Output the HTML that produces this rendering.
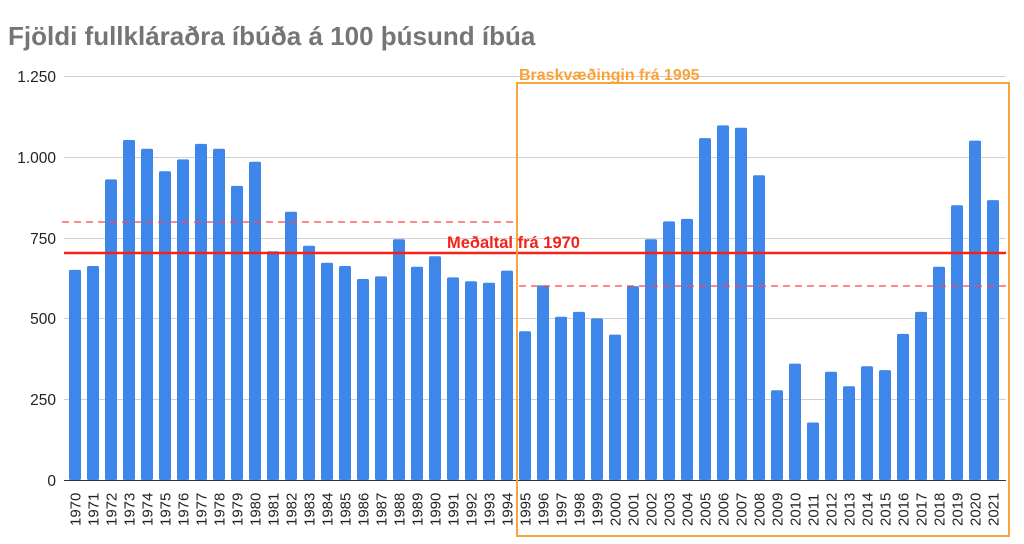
<!DOCTYPE html>
<html><head><meta charset="utf-8"><style>body{margin:0;background:#fff}svg{display:block}</style></head><body>
<svg width="1024" height="544" xmlns="http://www.w3.org/2000/svg" font-family="Liberation Sans, Arial, sans-serif">
<text x="8" y="45" font-size="26" font-weight="bold" fill="#757575">Fjöldi fullkláraðra íbúða á 100 þúsund íbúa</text>
<g stroke="#d0d0d0" stroke-width="1">
<line x1="64" x2="1006" y1="76.5" y2="76.5"/><line x1="64" x2="1006" y1="157.5" y2="157.5"/><line x1="64" x2="1006" y1="238.5" y2="238.5"/><line x1="64" x2="1006" y1="318.5" y2="318.5"/><line x1="64" x2="1006" y1="399.5" y2="399.5"/>
</g>
<g font-size="15.5" fill="#222" text-anchor="end">
<text x="56" y="82">1.250</text><text x="56" y="163">1.000</text><text x="56" y="244">750</text><text x="56" y="324">500</text><text x="56" y="405">250</text><text x="56" y="486">0</text>
</g>
<g fill="#3f86ea">
<rect x="69" y="269.9" width="12" height="210.1" rx="1.5"/>
<rect x="87" y="266.0" width="12" height="214.0" rx="1.5"/>
<rect x="105" y="179.4" width="12" height="300.6" rx="1.5"/>
<rect x="123" y="140.0" width="12" height="340.0" rx="1.5"/>
<rect x="141" y="148.7" width="12" height="331.3" rx="1.5"/>
<rect x="159" y="171.3" width="12" height="308.7" rx="1.5"/>
<rect x="177" y="159.4" width="12" height="320.6" rx="1.5"/>
<rect x="195" y="143.9" width="12" height="336.1" rx="1.5"/>
<rect x="213" y="148.7" width="12" height="331.3" rx="1.5"/>
<rect x="231" y="185.9" width="12" height="294.1" rx="1.5"/>
<rect x="249" y="161.7" width="12" height="318.3" rx="1.5"/>
<rect x="267" y="251.2" width="12" height="228.8" rx="1.5"/>
<rect x="285" y="211.7" width="12" height="268.3" rx="1.5"/>
<rect x="303" y="245.7" width="12" height="234.3" rx="1.5"/>
<rect x="321" y="262.8" width="12" height="217.2" rx="1.5"/>
<rect x="339" y="266.0" width="12" height="214.0" rx="1.5"/>
<rect x="357" y="279.0" width="12" height="201.0" rx="1.5"/>
<rect x="375" y="276.4" width="12" height="203.6" rx="1.5"/>
<rect x="393" y="239.2" width="12" height="240.8" rx="1.5"/>
<rect x="411" y="266.7" width="12" height="213.3" rx="1.5"/>
<rect x="429" y="256.3" width="12" height="223.7" rx="1.5"/>
<rect x="447" y="277.4" width="12" height="202.6" rx="1.5"/>
<rect x="465" y="281.2" width="12" height="198.8" rx="1.5"/>
<rect x="483" y="282.8" width="12" height="197.2" rx="1.5"/>
<rect x="501" y="270.6" width="12" height="209.4" rx="1.5"/>
<rect x="519" y="331.3" width="12" height="148.7" rx="1.5"/>
<rect x="537" y="285.4" width="12" height="194.6" rx="1.5"/>
<rect x="555" y="316.8" width="12" height="163.2" rx="1.5"/>
<rect x="573" y="311.9" width="12" height="168.1" rx="1.5"/>
<rect x="591" y="318.4" width="12" height="161.6" rx="1.5"/>
<rect x="609" y="334.6" width="12" height="145.4" rx="1.5"/>
<rect x="627" y="286.1" width="12" height="193.9" rx="1.5"/>
<rect x="645" y="239.2" width="12" height="240.8" rx="1.5"/>
<rect x="663" y="221.4" width="12" height="258.6" rx="1.5"/>
<rect x="681" y="218.9" width="12" height="261.1" rx="1.5"/>
<rect x="699" y="138.1" width="12" height="341.9" rx="1.5"/>
<rect x="717" y="125.4" width="12" height="354.6" rx="1.5"/>
<rect x="735" y="127.7" width="12" height="352.3" rx="1.5"/>
<rect x="753" y="175.2" width="12" height="304.8" rx="1.5"/>
<rect x="771" y="390.2" width="12" height="89.8" rx="1.5"/>
<rect x="789" y="363.6" width="12" height="116.4" rx="1.5"/>
<rect x="807" y="422.5" width="12" height="57.5" rx="1.5"/>
<rect x="825" y="371.7" width="12" height="108.3" rx="1.5"/>
<rect x="843" y="386.3" width="12" height="93.7" rx="1.5"/>
<rect x="861" y="366.2" width="12" height="113.8" rx="1.5"/>
<rect x="879" y="370.1" width="12" height="109.9" rx="1.5"/>
<rect x="897" y="333.9" width="12" height="146.1" rx="1.5"/>
<rect x="915" y="311.9" width="12" height="168.1" rx="1.5"/>
<rect x="933" y="266.7" width="12" height="213.3" rx="1.5"/>
<rect x="951" y="205.3" width="12" height="274.7" rx="1.5"/>
<rect x="969" y="140.6" width="12" height="339.4" rx="1.5"/>
<rect x="987" y="200.1" width="12" height="279.9" rx="1.5"/>
</g>
<line x1="64" x2="1006" y1="480.5" y2="480.5" stroke="#333" stroke-width="1"/>
<g font-size="15" fill="#222">
<text transform="translate(80.5,526) rotate(-90)">1970</text>
<text transform="translate(98.5,526) rotate(-90)">1971</text>
<text transform="translate(116.5,526) rotate(-90)">1972</text>
<text transform="translate(134.5,526) rotate(-90)">1973</text>
<text transform="translate(152.5,526) rotate(-90)">1974</text>
<text transform="translate(170.5,526) rotate(-90)">1975</text>
<text transform="translate(188.5,526) rotate(-90)">1976</text>
<text transform="translate(206.5,526) rotate(-90)">1977</text>
<text transform="translate(224.5,526) rotate(-90)">1978</text>
<text transform="translate(242.5,526) rotate(-90)">1979</text>
<text transform="translate(260.5,526) rotate(-90)">1980</text>
<text transform="translate(278.5,526) rotate(-90)">1981</text>
<text transform="translate(296.5,526) rotate(-90)">1982</text>
<text transform="translate(314.5,526) rotate(-90)">1983</text>
<text transform="translate(332.5,526) rotate(-90)">1984</text>
<text transform="translate(350.5,526) rotate(-90)">1985</text>
<text transform="translate(368.5,526) rotate(-90)">1986</text>
<text transform="translate(386.5,526) rotate(-90)">1987</text>
<text transform="translate(404.5,526) rotate(-90)">1988</text>
<text transform="translate(422.5,526) rotate(-90)">1989</text>
<text transform="translate(440.5,526) rotate(-90)">1990</text>
<text transform="translate(458.5,526) rotate(-90)">1991</text>
<text transform="translate(476.5,526) rotate(-90)">1992</text>
<text transform="translate(494.5,526) rotate(-90)">1993</text>
<text transform="translate(512.5,526) rotate(-90)">1994</text>
<text transform="translate(530.5,526) rotate(-90)">1995</text>
<text transform="translate(548.5,526) rotate(-90)">1996</text>
<text transform="translate(566.5,526) rotate(-90)">1997</text>
<text transform="translate(584.5,526) rotate(-90)">1998</text>
<text transform="translate(602.5,526) rotate(-90)">1999</text>
<text transform="translate(620.5,526) rotate(-90)">2000</text>
<text transform="translate(638.5,526) rotate(-90)">2001</text>
<text transform="translate(656.5,526) rotate(-90)">2002</text>
<text transform="translate(674.5,526) rotate(-90)">2003</text>
<text transform="translate(692.5,526) rotate(-90)">2004</text>
<text transform="translate(710.5,526) rotate(-90)">2005</text>
<text transform="translate(728.5,526) rotate(-90)">2006</text>
<text transform="translate(746.5,526) rotate(-90)">2007</text>
<text transform="translate(764.5,526) rotate(-90)">2008</text>
<text transform="translate(782.5,526) rotate(-90)">2009</text>
<text transform="translate(800.5,526) rotate(-90)">2010</text>
<text transform="translate(818.5,526) rotate(-90)">2011</text>
<text transform="translate(836.5,526) rotate(-90)">2012</text>
<text transform="translate(854.5,526) rotate(-90)">2013</text>
<text transform="translate(872.5,526) rotate(-90)">2014</text>
<text transform="translate(890.5,526) rotate(-90)">2015</text>
<text transform="translate(908.5,526) rotate(-90)">2016</text>
<text transform="translate(926.5,526) rotate(-90)">2017</text>
<text transform="translate(944.5,526) rotate(-90)">2018</text>
<text transform="translate(962.5,526) rotate(-90)">2019</text>
<text transform="translate(980.5,526) rotate(-90)">2020</text>
<text transform="translate(998.5,526) rotate(-90)">2021</text>
</g>
<line x1="62" x2="516" y1="222" y2="222" stroke="#f44" stroke-width="1.3" stroke-dasharray="7,5"/>
<line x1="519" x2="1006" y1="286" y2="286" stroke="#f44" stroke-width="1.3" stroke-dasharray="7,5"/>
<line x1="64" x2="1006" y1="253" y2="253" stroke="#f4221a" stroke-width="2.5"/>
<text x="447" y="248" font-size="16.5" font-weight="bold" fill="#f4221a">Meðaltal frá 1970</text>
<rect x="517" y="83" width="492" height="453" fill="none" stroke="#f9a33a" stroke-width="2"/>
<text x="519" y="80" font-size="16" font-weight="bold" fill="#f9a33a">Braskvæðingin frá 1995</text>
</svg>
</body></html>
